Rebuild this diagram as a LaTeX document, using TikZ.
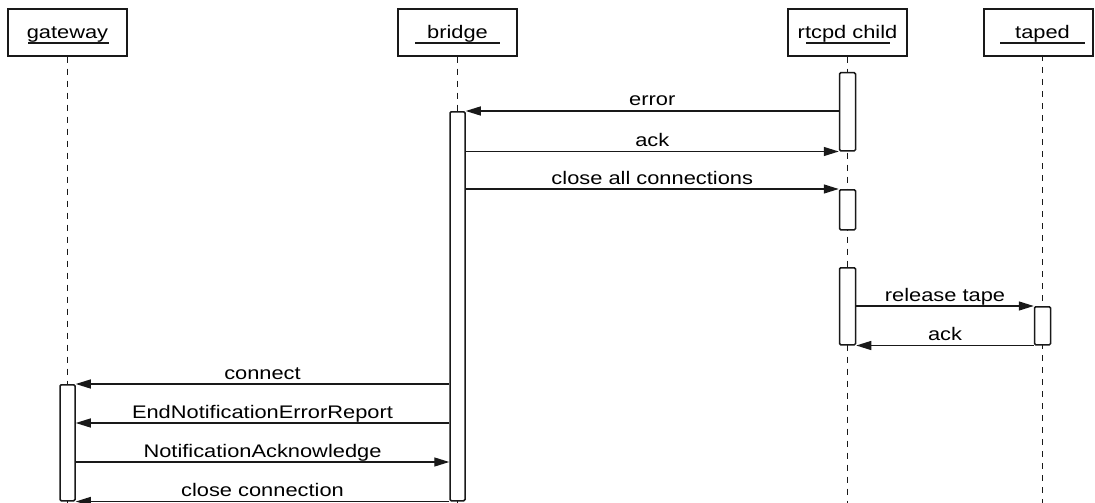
\documentclass[tikz,border=0pt]{standalone}
\usepackage{fontspec}
\newfontfamily\lblfont[FakeStretch=1.2]{Liberation Sans}
\usetikzlibrary{arrows.meta}
\definecolor{ink}{RGB}{25,25,25}
\begin{document}
\begin{tikzpicture}[x=1pt,y=-1pt,
  font=\lblfont\fontsize{18.2}{20}\selectfont,
  every node/.style={text=black},
  objbox/.style={draw=ink, line width=1.6pt, minimum width=119pt, minimum height=47pt, inner sep=0pt, anchor=north},
  objtext/.style={anchor=base, inner sep=0pt},
  uline/.style={draw=ink, line width=1.3pt},
  life/.style={draw=ink, line width=1.3pt, dash pattern=on 6pt off 6pt},
  actbox/.style={draw=ink, fill=white, line width=1.5pt, rounded corners=1.2pt, minimum width=16pt, inner sep=0pt, anchor=north},
  msg/.style={draw=ink, line width=1.4pt, -{Triangle[length=15pt,width=9pt]}},
  lbl/.style={midway, anchor=base, yshift=5pt, inner sep=0pt}
]
\useasboundingbox (0,0) rectangle (1095,503);

% object boxes
\node[objbox] (gw) at (67.5,8) {};
\node[objbox] (br) at (457.5,8) {};
\node[objbox] (rc) at (847.5,8) {};
\node[objbox, minimum width=109pt] (tp) at (1038.5,8) {};
\node[objtext] (gwt) at (67.5,39) {gateway};
\node[objtext] (brt) at (457.5,39) {bridge};
\node[objtext] (rct) at (847.5,39) {rtcpd child};
\node[objtext] (tpt) at (1042.5,39) {taped};
\draw[uline] (28,43) -- (109,43);
\draw[uline] (415,43) -- (500,43);
\draw[uline] (806,43) -- (890,43);
\draw[uline] (1000,43) -- (1085,43);

% lifelines
\coordinate (gwend) at (67.5,503);
\coordinate (brend) at (457.5,503);
\coordinate (rcend) at (847.5,503);
\coordinate (tpend) at (1042.5,503);
\draw[life] (gw.south) -- (gwend);
\draw[life] (br.south) -- (brend);
\draw[life] (rc.south) -- (rcend);
\draw[life] (gwt.base -| tpend) ++(0,16) -- (tpend);

% activation boxes
\node[actbox, minimum height=78pt] (r1) at (847.5,72) {};
\node[actbox, minimum width=15pt, minimum height=389pt] (b1) at (457.5,111) {};
\node[actbox, minimum height=40pt] (r2) at (847.5,189) {};
\node[actbox, minimum height=77pt] (r3) at (847.5,267) {};
\node[actbox, minimum height=38pt] (t1) at (1042.5,306) {};
\node[actbox, minimum width=15pt, minimum height=116pt] (g1) at (67.5,384) {};

% messages
\draw[msg] (r1.west |- b1.north) -- node[lbl] {error} (b1.east |- b1.north);
\draw[msg] (b1.east |- r1.south) -- node[lbl] {ack} (r1.south west);
\draw[msg] (b1.east |- r2.north) -- node[lbl] {close all connections} (r2.north west);
\draw[msg] (r3.east |- t1.north) -- node[lbl] {release tape} (t1.north west);
\draw[msg] (t1.south west) -- node[lbl] {ack} (r3.south east);
\draw[msg] (b1.west |- g1.north) -- node[lbl] {connect} (g1.north east);
\draw[msg] (b1.west |- 0,423) -- node[lbl] {EndNotificationErrorReport} (g1.east |- 0,423);
\draw[msg] (g1.east |- 0,462) -- node[lbl] {NotificationAcknowledge} (b1.west |- 0,462);
\draw[msg] (b1.south west) -- node[lbl] {close connection} (g1.south east);
\end{tikzpicture}
\end{document}
